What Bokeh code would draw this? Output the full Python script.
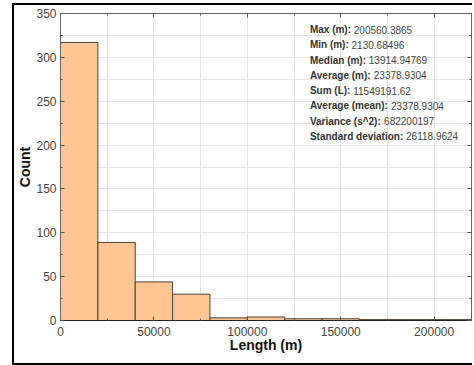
from bokeh.plotting import figure
from bokeh.models import (ColumnDataSource, LinearAxis, SingleIntervalTicker, Range1d,
                          CustomJSTickFormatter)
from bokeh.core.properties import value
from bokeh.embed import file_html
from bokeh.resources import INLINE

# ---- data ----
bin_edges = [0, 20000, 40000, 60000, 80000, 100000, 120000, 140000, 160000, 180000, 200000, 220000]
counts = [317, 89, 44, 30, 3, 4, 2, 2, 1, 1, 1]

stat_labels = ["Max (m):", "Min (m):", "Median (m):", "Average (m):", "Sum (L):",
               "Average (mean):", "Variance (s^2):", "Standard deviation:"]
stat_values = ["200560.3865", "2130.68496", "13914.94769", "23378.9304", "11549191.62",
               "23378.9304", "682200197", "26118.9624"]

x_label = "Length (m)"
y_label = "Count"

# ---- styling helpers ----
FONT = "Liberation Sans"
STAT_SIZE = 10
# Arial/Liberation Sans bold advance widths (per 1000 em)
BOLD_W = {" ": 278, "(": 333, ")": 333, ":": 333, "^": 584, "2": 556, "A": 722, "L": 611,
          "M": 833, "S": 667, "V": 667, "a": 556, "c": 556, "d": 611, "e": 556, "g": 611,
          "i": 278, "m": 889, "n": 611, "o": 611, "r": 389, "s": 556, "t": 333, "u": 611,
          "v": 556, "x": 556}


def bold_width(s, size):
    return sum(BOLD_W.get(ch, 556) for ch in s) * size / 1000.0


p = figure(width=460, height=362, output_backend="svg", toolbar_location=None,
           x_range=Range1d(0, 220000), y_range=Range1d(0, 350),
           min_border_left=44, min_border_right=3, min_border_top=8, min_border_bottom=47)
p.styles = {"margin-left": "12px", "margin-top": "3px",
            "border-left": "2px solid black", "border-top": "2px solid black",
            "border-bottom": "2px solid black"}
p.outline_line_color = "#555555"
p.background_fill_color = "white"
p.border_fill_color = "white"

src = ColumnDataSource(dict(left=bin_edges[:-1], right=bin_edges[1:], top=counts,
                            bottom=[0] * len(counts)))
p.quad(left="left", right="right", top="top", bottom="bottom", source=src,
       fill_color="#FDC591", line_color="#4a4038", line_width=1)

xt = SingleIntervalTicker(interval=50000, num_minor_ticks=2)
yt = SingleIntervalTicker(interval=50, num_minor_ticks=2)

for ax in (p.xaxis[0], p.yaxis[0]):
    ax.major_tick_in = 4
    ax.major_tick_out = 0
    ax.minor_tick_in = 2
    ax.minor_tick_out = 0
    ax.major_tick_line_color = "#555555"
    ax.minor_tick_line_color = "#555555"
    ax.major_label_text_font = FONT
    ax.major_label_text_font_size = "12px"
    ax.major_label_text_color = "#444444"
    ax.axis_label_text_font = FONT
    ax.axis_label_text_font_size = "14px"
    ax.axis_label_text_font_style = "bold"
    ax.axis_label_text_color = "#111111"

p.xaxis[0].ticker = xt
p.yaxis[0].ticker = yt
p.xaxis[0].axis_label = x_label
p.yaxis[0].axis_label = y_label
p.xaxis[0].axis_line_color = "#222222"
p.yaxis[0].axis_line_color = "#666666"
p.xaxis[0].major_label_standoff = 6
p.yaxis[0].major_label_standoff = 4
p.xaxis[0].axis_label_standoff = -2
p.yaxis[0].axis_label_standoff = 0
p.xaxis[0].formatter.use_scientific = False
p.yaxis[0].major_label_orientation = "horizontal"

# mirror axes (top and right), ticks only
for loc, tk in (("above", xt), ("right", yt)):
    ax = LinearAxis(ticker=tk, formatter=CustomJSTickFormatter(code="return ''"),
                    major_label_standoff=0,
                    major_tick_in=4, major_tick_out=0, minor_tick_in=2, minor_tick_out=0,
                    axis_line_color="#666666", major_tick_line_color="#555555",
                    minor_tick_line_color="#555555")
    p.add_layout(ax, loc)

p.xgrid[0].ticker = xt
p.ygrid[0].ticker = yt
for g in (p.xgrid[0], p.ygrid[0]):
    g.grid_line_color = "#e4e4e4"
    g.minor_grid_line_color = "#e4e4e4"
    g.grid_line_width = 1
    g.minor_grid_line_width = 1

# statistics text block
x0 = 133500
y_top = 331.7
dy = 17.4
ys = [y_top - i * dy for i in range(len(stat_labels))]
offs = [bold_width(s + " ", STAT_SIZE) for s in stat_labels]
tsrc = ColumnDataSource(dict(x=[x0] * len(stat_labels), y=ys, lab=stat_labels,
                             val=stat_values, off=offs))
p.text(x="x", y="y", text="lab", source=tsrc, text_font=value(FONT),
       text_font_size=f"{STAT_SIZE}px", text_font_style="bold", text_color="#333333",
       text_baseline="middle", text_align="left")
p.text(x="x", y="y", text="val", x_offset="off", source=tsrc, text_font=value(FONT),
       text_font_size=f"{STAT_SIZE}px", text_color="#444444",
       text_baseline="middle", text_align="left")

open("out.html", "w").write(file_html(p, INLINE))
